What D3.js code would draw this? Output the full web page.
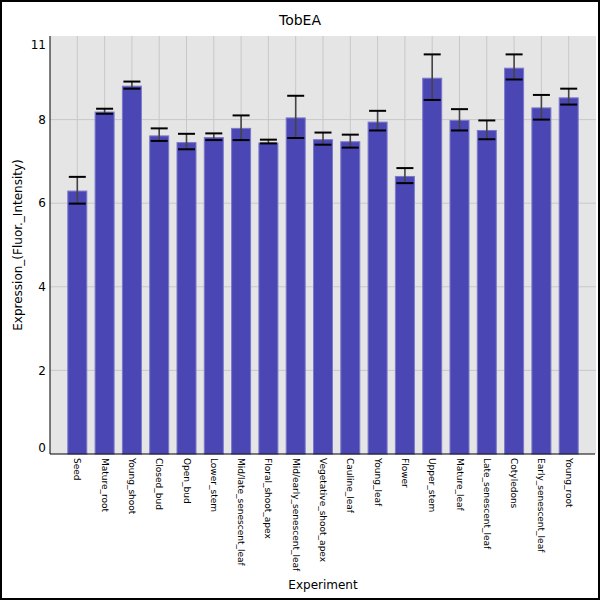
<!DOCTYPE html>
<html>
<head>
<meta charset="utf-8">
<script src="https://cdn.jsdelivr.net/npm/d3@7"></script>
<style>
  body { margin: 0; background: #fff; }
  text { font-family: "DejaVu Sans", sans-serif; }
</style>
</head>
<body>
<svg id="grafico"></svg>
<script>
var categorias = ['Seed', 'Mature_root', 'Young_shoot', 'Closed_bud', 'Open_bud', 'Lower_stem',
  'Mid/late_senescent_leaf', 'Floral_shoot_apex', 'Mid/early_senescent_leaf', 'Vegetative_shoot_apex',
  'Cauline_leaf', 'Young_leaf', 'Flower', 'Upper_stem', 'Mature_leaf', 'Late_senescent_leaf',
  'Cotyledons', 'Early_senescent_leaf', 'Young_root'];
var valores = [6.29, 8.18, 8.80, 7.61, 7.45, 7.57, 7.79, 7.44, 8.04, 7.52,
  7.47, 7.94, 6.64, 8.99, 7.98, 7.74, 9.23, 8.28, 8.52];
var erroSuperior = [6.63, 8.26, 8.91, 7.79, 7.66, 7.67, 8.10, 7.52, 8.57, 7.69,
  7.64, 8.21, 6.84, 9.56, 8.25, 7.98, 9.56, 8.59, 8.74];
var erroInferior = [5.99, 8.14, 8.74, 7.49, 7.29, 7.51, 7.51, 7.43, 7.56, 7.40,
  7.33, 7.74, 6.48, 8.47, 7.74, 7.53, 8.96, 8.00, 8.36];
var ticksY = [0, 2, 4, 6, 8, 11];

var largura = 600, altura = 600;
var margem = { esquerda: 50, direita: 4, superior: 36, inferior: 146 };
var larguraPlotagem = largura - margem.esquerda - margem.direita;
var alturaPlotagem = altura - margem.superior - margem.inferior;

var dados = categorias.map(function (c, i) {
  return { chave: c, valor: valores[i], sup: erroSuperior[i], inf: erroInferior[i] };
});

var svg = d3.select('#grafico')
  .attr('width', largura)
  .attr('height', altura);

svg.append('rect')
  .attr('x', 1).attr('y', 1)
  .attr('width', largura - 2).attr('height', altura - 2)
  .attr('fill', '#fff')
  .attr('stroke', '#000')
  .attr('stroke-width', 2);

var plotagem = svg.append('g')
  .attr('transform', 'translate(' + margem.esquerda + ',' + margem.superior + ')');

var x = d3.scalePoint()
  .domain(categorias)
  .range([0, larguraPlotagem])
  .padding(1);
var y = d3.scaleLinear()
  .domain([0, 10])
  .range([alturaPlotagem, 0]);

plotagem.append('rect')
  .attr('width', larguraPlotagem)
  .attr('height', alturaPlotagem)
  .attr('fill', '#e5e5e5');

// grade
plotagem.selectAll('.gradeX')
  .data(categorias)
  .enter().append('line')
  .attr('x1', d => x(d)).attr('x2', d => x(d))
  .attr('y1', 0).attr('y2', alturaPlotagem)
  .attr('stroke', '#c8c8c8');

plotagem.selectAll('.gradeY')
  .data(ticksY.filter(v => v > 0 && v < 10))
  .enter().append('line')
  .attr('x1', 0).attr('x2', larguraPlotagem)
  .attr('y1', d => y(d)).attr('y2', d => y(d))
  .attr('stroke', '#c8c8c8');

var larguraBarra = 20;
plotagem.selectAll('.barra')
  .data(dados)
  .enter().append('rect')
  .attr('x', d => x(d.chave) - larguraBarra / 2 + 0.5)
  .attr('y', d => y(d.valor))
  .attr('width', larguraBarra - 1)
  .attr('height', d => alturaPlotagem - y(d.valor))
  .attr('fill', '#4a46b4')
  .attr('stroke', '#7b78cc')
  .attr('stroke-width', 1);

// barras de erro
var erro = plotagem.selectAll('.erro')
  .data(dados)
  .enter().append('g');
erro.append('line')
  .attr('x1', d => x(d.chave)).attr('x2', d => x(d.chave))
  .attr('y1', d => y(d.sup)).attr('y2', d => y(d.inf))
  .attr('stroke', '#444')
  .attr('stroke-width', 1.6);
erro.append('line')
  .attr('x1', d => x(d.chave) - 8.5).attr('x2', d => x(d.chave) + 8.5)
  .attr('y1', d => y(d.sup)).attr('y2', d => y(d.sup))
  .attr('stroke', '#000')
  .attr('stroke-width', 2);
erro.append('line')
  .attr('x1', d => x(d.chave) - 8.5).attr('x2', d => x(d.chave) + 8.5)
  .attr('y1', d => y(d.inf)).attr('y2', d => y(d.inf))
  .attr('stroke', '#000')
  .attr('stroke-width', 2);

// eixos
plotagem.append('line')
  .attr('x1', 0).attr('x2', 0)
  .attr('y1', 0).attr('y2', alturaPlotagem)
  .attr('stroke', '#000');
plotagem.append('line')
  .attr('x1', 0).attr('x2', larguraPlotagem - 1)
  .attr('y1', alturaPlotagem).attr('y2', alturaPlotagem)
  .attr('stroke', '#000');

plotagem.selectAll('.rotuloY')
  .data(ticksY)
  .enter().append('text')
  .attr('x', -4)
  .attr('y', d => Math.max(9, Math.min(alturaPlotagem - 6, y(d))))
  .attr('dy', '0.35em')
  .attr('text-anchor', 'end')
  .attr('font-size', 12)
  .attr('fill', '#000')
  .text(d => d);

plotagem.selectAll('.rotuloX')
  .data(categorias)
  .enter().append('text')
  .attr('transform', d => 'translate(' + (x(d) - 3) + ',' + (alturaPlotagem + 4) + ') rotate(90)')
  .attr('text-anchor', 'start')
  .attr('font-size', 9)
  .attr('fill', '#000')
  .text(d => d);

// titulos
svg.append('text')
  .attr('x', 300).attr('y', 25)
  .attr('text-anchor', 'middle')
  .attr('font-size', 14)
  .text('TobEA');

svg.append('text')
  .attr('transform', 'translate(22,' + (margem.superior + alturaPlotagem / 2) + ') rotate(-90)')
  .attr('text-anchor', 'middle')
  .attr('font-size', 12)
  .text('Expression_(Fluor._Intensity)');

svg.append('text')
  .attr('x', margem.esquerda + larguraPlotagem / 2).attr('y', 589)
  .attr('text-anchor', 'middle')
  .attr('font-size', 12)
  .text('Experiment');
</script>
</body>
</html>
